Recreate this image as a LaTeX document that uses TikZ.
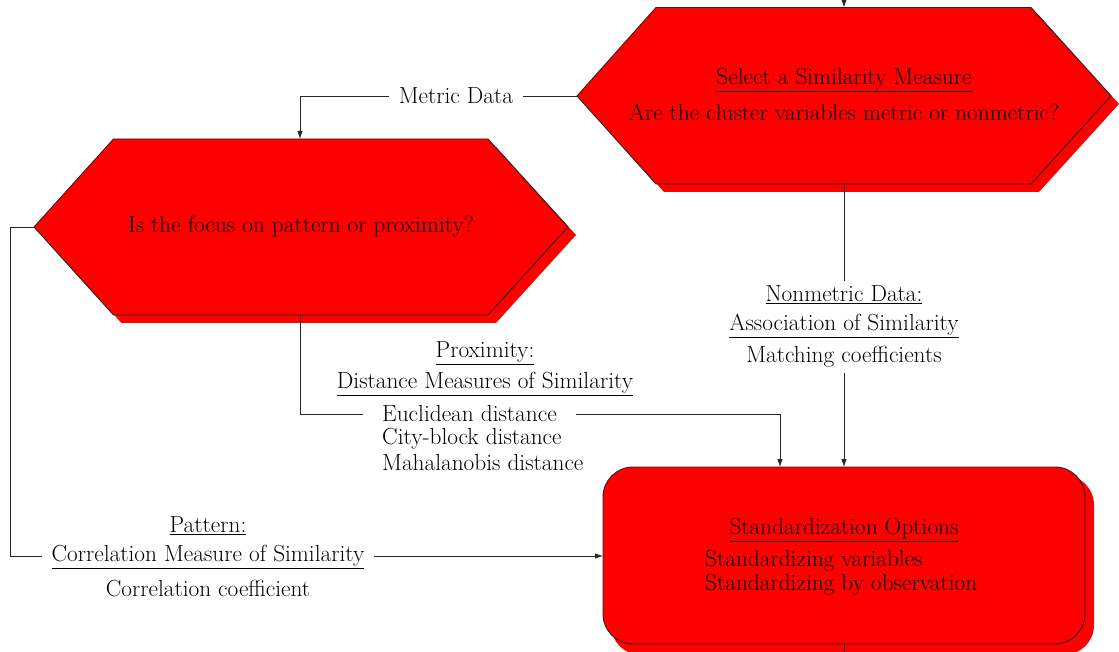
\documentclass[tikz,border=0pt]{standalone}
\usetikzlibrary{arrows.meta}
\begin{document}
\begin{tikzpicture}[x=1pt,y=-1pt,
  shapeline/.style={fill=red, draw=black!85, line width=0.9pt, line join=miter},
  shadowfill/.style={fill=red},
  conn/.style={draw=black!85, line width=0.8pt},
  arr/.style={conn, -{Latex[length=8pt,width=5.5pt]}},
  txt/.style={font=\fontsize{23.3}{27}\selectfont, text=black, inner sep=0pt},
  lbl/.style={txt, fill=white, inner xsep=10pt, inner ysep=2pt},
]
\useasboundingbox (0,0) rectangle (1119,652);

% ---------- shapes (shadows first) ----------
% hexagon 1
\fill[shadowfill] (585,104) -- (664,15.5) -- (1039,15.5) -- (1119,104) -- (1039,192) -- (664,192) -- cycle;
\draw[shapeline] (577,96) -- (656,7.5) -- (1031,7.5) -- (1111,96) -- (1031,184) -- (656,184) -- cycle;
% hexagon 2
\fill[shadowfill] (42,235) -- (121.5,147) -- (496,147) -- (576,235) -- (496,323) -- (121.5,323) -- cycle;
\draw[shapeline] (34,227) -- (113.5,139) -- (488,139) -- (568,227) -- (488,315) -- (113.5,315) -- cycle;
% rounded box
\fill[shadowfill, rounded corners=30pt] (611,475) rectangle (1094,655);
\draw[shapeline, rounded corners=30pt] (603,467) rectangle (1085,644);

% ---------- anchor coordinates ----------
\coordinate (topin) at (844,0);
\coordinate (h1n) at (844,7.5);
\coordinate (h1w) at (577,96);
\coordinate (h1s) at (844,184);
\coordinate (h2n) at (300,139);
\coordinate (h2w) at (34,227);
\coordinate (h2s) at (300,315);
\coordinate (bxa) at (780,467);
\coordinate (bxb) at (844,467);
\coordinate (bxw) at (603,556);
\coordinate (bxs) at (844,644);
\coordinate (botout) at (844,652);
\coordinate (pk) at (780,414);
\coordinate (pc) at (10,227);

% ---------- connectors ----------
\draw[arr] (topin) -- (h1n);
\draw[arr] (h1w) -| (h2n);
\draw[arr] (h1s) -- (bxb);
\draw[arr] (h2s) |- (pk) -- (bxa);
\draw[arr] (h2w) -- (pc) |- (bxw);
\draw[conn] (bxs) -- (botout);

% ---------- texts in shapes ----------
\node[txt] (q1a) at (844,80) {\underline{Select a Similarity Measure}};
\node[txt] (q1b) at (844,112) {Are the cluster variables metric or nonmetric?};
\node[txt] (q2) at (301,227) {Is the focus on pattern or proximity?};
\node[txt] (s1) at (844,530) {\underline{Standardization Options}};
\node[txt, anchor=west] (s2) at (705,561) {Standardizing variables};
\node[txt, anchor=west] (s3) at (705,585) {Standardizing by observation};

% ---------- connector labels ----------
\node[lbl] (lmet) at (456,96) {Metric Data};

\node[lbl, inner ysep=7pt] (ln2) at (844,326) {\underline{Association of Similarity}};
\node[lbl, inner ysep=5pt] (ln1) at (844,295) {\underline{Nonmetric Data:}};
\node[lbl, inner ysep=5pt] (ln3) at (844,357) {Matching coefficients};

\node[txt] (lp1) at (485,353) {\underline{Proximity:}};
\node[txt] (lp2) at (485,384) {\underline{Distance Measures of Similarity}};
\node[lbl, anchor=west, inner xsep=19pt] (lp3) at (363,414) {Euclidean distance};
\node[txt, anchor=west] (lp4) at (382,439) {City-block distance};
\node[txt, anchor=west] (lp5) at (382,463) {Mahalanobis distance};

\node[txt] (lt1) at (208,526) {\underline{Pattern:}};
\node[lbl] (lt2) at (208,557) {\underline{Correlation Measure of Similarity}};
\node[txt] (lt3) at (208,589) {Correlation coefficient};
\end{tikzpicture}
\end{document}
